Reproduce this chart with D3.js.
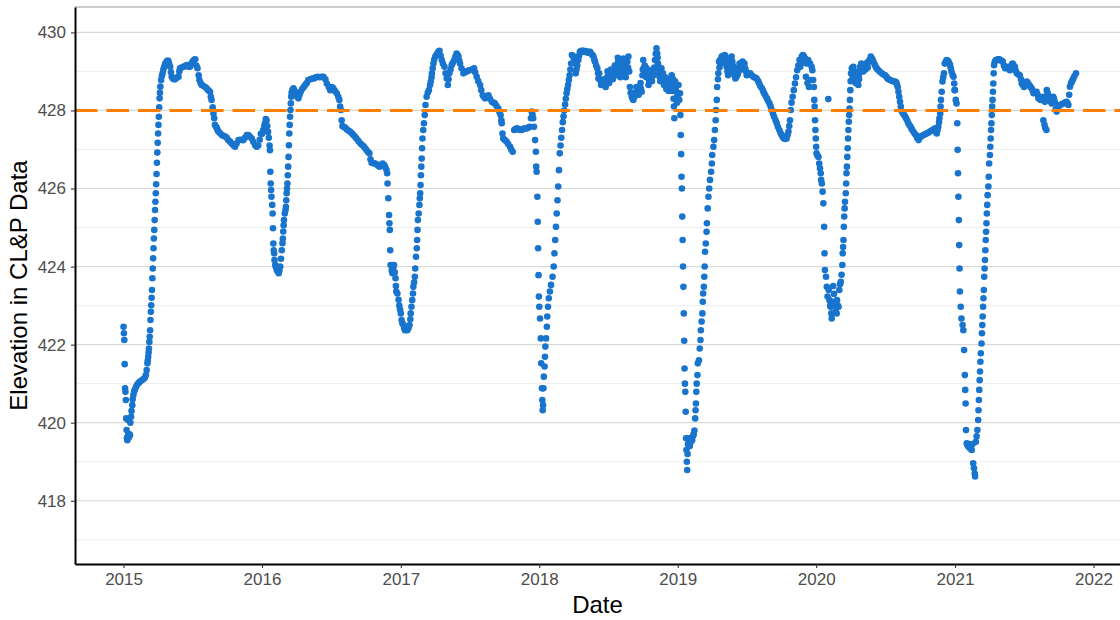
<!DOCTYPE html>
<html>
<head>
<meta charset="utf-8">
<script src="https://cdn.jsdelivr.net/npm/d3@7"></script>
<style>
body{margin:0;background:#fff;}
svg{display:block;font-family:"Liberation Sans",Arial,sans-serif;}
</style>
</head>
<body>
<script>
// [day of year, elevation]
let y2015=[[0,422.46],[1,422.29],[2,422.12],[3,421.5],[4,420.88],[5,420.79],[6,420.58],[7,420.11],[8,419.81],[9,419.6],[10,419.55],[11,419.65],[12,420.07],[13,419.7],[14,419.62],[16,419.7],[17,419.68],[18,420.0],[20,420.15],[21,420.3],[23,420.45],[24,420.6],[26,420.71],[28,420.8],[30,420.85],[33,420.92],[36,420.98],[40,421.02],[43,421.05],[47,421.08],[52,421.11],[56,421.15],[59,421.22],[61,421.35],[63,421.52],[64,421.6],[65,421.69],[66,421.8],[67,421.9],[68,422.07],[69,422.2],[70,422.37],[71,422.63],[72,422.84],[73,423.01],[74,423.2],[75,423.4],[76,423.7],[77,423.95],[78,424.21],[79,424.47],[80,424.72],[81,424.94],[82,425.19],[83,425.45],[84,425.66],[85,425.88],[86,426.11],[87,426.37],[88,426.66],[89,426.92],[90,427.17],[91,427.41],[92,427.63],[93,427.84],[94,428.08],[95,428.31],[96,428.45],[97,428.61],[99,428.78],[101,428.88],[103,428.95],[105,429.05],[107,429.12],[110,429.2],[112,429.22],[115,429.27],[118,429.27],[120,429.2],[123,429.12],[125,428.98],[127,428.86],[130,428.82],[133,428.8],[136,428.8],[140,428.84],[145,428.86],[147,429.0],[149,429.08],[153,429.1],[158,429.12],[162,429.14],[167,429.16],[171,429.12],[175,429.12],[179,429.2],[182,429.25],[186,429.3],[189,429.31],[192,429.15],[195,429.08],[198,428.9],[200,428.78],[203,428.7],[206,428.65],[210,428.63],[215,428.6],[219,428.57],[223,428.52],[228,428.48],[230,428.35],[232,428.27],[235,428.08],[237,427.92],[239,427.8],[241,427.63],[244,427.58],[246,427.55],[248,427.5],[250,427.46],[254,427.42],[259,427.37],[263,427.35],[268,427.33],[272,427.3],[276,427.24],[281,427.2],[285,427.15],[290,427.1],[294,427.07],[298,427.15],[303,427.24],[308,427.25],[312,427.24],[316,427.24],[320,427.3],[325,427.37],[329,427.37],[333,427.33],[338,427.28],[342,427.2],[347,427.11],[351,427.07],[355,427.1],[359,427.25],[362,427.4]];
let y2016=[[0,427.4],[3,427.5],[6,427.6],[8,427.67],[10,427.78],[12,427.75],[14,427.6],[16,427.45],[18,427.3],[20,427.1],[21,426.98],[22,426.43],[23,426.13],[24,425.96],[25,425.79],[27,425.58],[28,425.36],[29,424.98],[30,424.59],[31,424.42],[32,424.34],[33,424.17],[35,424.04],[37,423.98],[39,423.91],[41,423.88],[44,423.83],[46,423.9],[48,424.0],[50,424.2],[52,424.42],[54,424.6],[55,424.72],[56,424.9],[57,425.06],[58,425.19],[60,425.36],[62,425.45],[63,425.53],[64,425.7],[65,425.88],[66,426.0],[67,426.13],[68,426.34],[69,426.56],[70,426.81],[71,427.11],[72,427.41],[73,427.63],[74,427.84],[75,428.01],[76,428.18],[77,428.35],[78,428.45],[80,428.52],[83,428.57],[86,428.5],[89,428.42],[93,428.35],[96,428.31],[99,428.4],[102,428.48],[106,428.55],[110,428.6],[114,428.65],[118,428.7],[122,428.78],[127,428.8],[132,428.82],[137,428.82],[142,428.85],[147,428.86],[152,428.85],[157,428.86],[162,428.86],[167,428.8],[171,428.69],[176,428.6],[180,428.52],[184,428.6],[188,428.57],[192,428.5],[197,428.44],[201,428.35],[204,428.27],[206,428.1],[208,428.01],[210,427.75],[212,427.6],[215,427.58],[219,427.56],[223,427.52],[228,427.48],[232,427.46],[236,427.42],[240,427.38],[245,427.33],[249,427.28],[254,427.22],[259,427.16],[263,427.12],[268,427.08],[272,427.03],[276,426.98],[280,426.93],[283,426.9],[286,426.75],[289,426.66],[293,426.65],[298,426.64],[302,426.62],[306,426.58],[310,426.56],[314,426.6],[318,426.64],[322,426.6],[325,426.55],[328,426.48],[330,426.39],[331,426.13],[333,425.75],[335,425.32],[336,425.11],[337,424.94],[338,424.42],[339,424.04],[342,423.9],[344,423.83],[346,423.95],[348,424.04],[350,423.85],[352,423.7],[353,423.5],[354,423.36],[357,423.31],[360,423.15],[362,423.0],[364,422.9]];
let y2017=[[0,422.8],[2,422.63],[4,422.55],[7,422.5],[9,422.42],[11,422.37],[14,422.38],[17,422.37],[20,422.42],[23,422.5],[25,422.65],[26,422.8],[28,422.97],[30,423.14],[32,423.31],[33,423.48],[35,423.6],[37,423.74],[38,423.95],[40,424.25],[42,424.47],[43,424.68],[44,424.94],[45,425.19],[47,425.36],[49,425.58],[50,425.75],[51,425.88],[52,426.09],[53,426.34],[54,426.56],[55,426.77],[56,427.03],[57,427.28],[59,427.5],[61,427.67],[63,427.88],[65,428.14],[68,428.35],[71,428.45],[74,428.52],[77,428.65],[79,428.74],[81,428.85],[82,428.95],[84,429.08],[86,429.2],[88,429.3],[91,429.38],[94,429.42],[96,429.46],[99,429.5],[102,429.53],[105,429.4],[108,429.29],[111,429.2],[115,429.12],[118,428.95],[121,428.82],[124,428.65],[126,428.8],[128,428.95],[131,429.05],[134,429.16],[137,429.22],[141,429.29],[144,429.38],[147,429.46],[150,429.42],[152,429.38],[154,429.28],[156,429.2],[160,429.08],[165,428.95],[169,428.98],[174,429.0],[178,429.02],[182,429.03],[187,429.05],[193,429.08],[196,428.98],[200,428.86],[204,428.75],[209,428.65],[212,428.52],[216,428.39],[219,428.35],[222,428.31],[226,428.35],[231,428.39],[235,428.3],[240,428.22],[244,428.2],[248,428.18],[252,428.12],[257,428.05],[260,427.96],[263,427.88],[265,427.75],[266,427.67],[268,427.41],[270,427.28],[274,427.24],[279,427.2],[283,427.14],[288,427.07],[291,427.0],[295,426.94],[299,427.5],[302,427.52],[306,427.54],[310,427.52],[314,427.5],[319,427.5],[323,427.53],[328,427.54],[332,427.54],[336,427.56],[340,427.58],[343,427.8],[345,427.97],[347,427.9],[349,427.8],[351,427.58],[354,427.24],[356,426.94],[357,426.56],[358,426.43],[360,425.79],[361,425.15],[362,424.47],[363,423.78],[364,423.23]];
let y2018=[[0,422.97],[2,422.67],[4,422.16],[5,421.52],[7,420.88],[8,420.58],[9,420.32],[10,420.45],[11,420.88],[12,421.18],[14,421.44],[15,421.69],[16,421.95],[18,422.16],[20,422.46],[21,422.72],[23,422.97],[25,423.19],[28,423.36],[31,423.53],[35,423.74],[38,424.0],[40,424.34],[42,424.68],[44,425.02],[46,425.36],[48,425.7],[50,426.05],[52,426.47],[54,426.9],[56,427.1],[58,427.3],[60,427.5],[62,427.7],[64,427.85],[66,428.0],[68,428.15],[70,428.3],[72,428.44],[74,428.55],[76,428.65],[78,428.78],[80,428.9],[82,429.05],[84,429.2],[86,429.42],[88,429.4],[90,429.38],[92,429.3],[94,429.2],[96,428.95],[98,429.05],[100,429.15],[103,429.29],[105,429.4],[107,429.5],[110,429.52],[113,429.53],[116,429.53],[119,429.5],[122,429.52],[125,429.5],[128,429.48],[131,429.5],[134,429.5],[137,429.45],[140,429.42],[143,429.38],[145,429.3],[147,429.25],[150,429.15],[153,429.08],[155,428.95],[156,428.82],[159,428.8],[162,428.76],[165,428.74],[168,428.7],[171,428.66],[173,428.65],[176,428.75],[179,428.85],[182,428.9],[185,428.86],[187,428.82],[190,428.88],[193,428.92],[195,428.95],[198,429.0],[201,429.05],[204,429.08],[206,429.18],[208,429.25],[211,429.2],[213,429.2],[215,429.1],[217,428.99],[219,429.15],[222,429.33],[224,429.1],[226,428.95],[229,429.1],[232,429.25],[235,429.38],[237,429.0],[239,428.6],[241,428.45],[244,428.35],[246,428.3],[248,428.27],[251,428.35],[254,428.42],[257,428.48],[260,428.52],[263,428.57],[266,428.6],[268,428.55],[270,428.48],[272,428.9],[274,429.29],[276,429.1],[279,428.9],[281,429.0],[283,429.08],[285,428.85],[288,428.65],[290,428.75],[292,428.82],[295,428.85],[298,428.88],[301,428.9],[303,429.1],[305,429.29],[307,429.45],[309,429.59],[311,429.46],[313,429.2],[315,428.95],[317,428.86],[320,429.0],[322,429.08],[324,428.95],[327,428.82],[330,428.75],[333,428.7],[336,428.69],[339,428.66],[342,428.62],[345,428.6],[348,428.7],[350,428.78],[352,428.65],[354,428.3],[355,428.1],[356,427.8],[358,428.74],[360,428.6],[362,428.48],[364,428.35],
    [158,428.95],[163,428.65],[170,428.8],[175,428.6],[180,429.0],[184,428.7],[189,429.05],[194,428.8],[199,429.15],[203,428.9],[207,429.35],[210,429.0],[214,428.85],[218,429.3],[221,429.05],[225,429.25],[228,428.85],[231,429.0],[234,429.1],[247,428.45],[256,428.6],[262,428.4],[267,428.7],[273,429.05],[278,429.15],[282,428.85],[286,429.0],[289,428.9],[294,429.0],[297,428.75],[300,429.05],[304,429.0],[308,429.3],[312,429.35],[316,429.1],[319,428.75],[323,428.9],[326,428.95],[329,428.65],[332,428.85],[335,428.55],[338,428.8],[341,428.5],[344,428.75],[347,428.55],[349,428.9],[351,428.5],[353,428.8],[357,428.55],[359,428.3],[361,428.65],[363,428.2]];
let y2019=[[0,428.4],[2,428.65],[4,428.27],[6,428.44],[7,427.88],[8,427.37],[9,426.88],[10,426.3],[11,426.0],[12,425.28],[13,424.68],[14,424.0],[15,423.48],[16,422.8],[17,422.1],[18,421.39],[19,421.0],[20,420.79],[21,420.28],[22,419.6],[23,419.3],[24,419.0],[25,418.79],[26,419.2],[27,419.45],[28,419.6],[30,419.5],[32,419.4],[34,419.5],[36,419.6],[38,419.55],[40,419.65],[42,419.7],[44,419.8],[46,420.11],[47,420.32],[48,420.49],[49,420.79],[50,421.0],[52,421.22],[53,421.52],[56,421.6],[58,421.9],[60,422.12],[61,422.37],[63,422.59],[65,422.8],[66,423.1],[67,423.31],[69,423.48],[70,423.74],[71,424.0],[72,424.38],[74,424.59],[76,424.89],[77,425.11],[79,425.49],[81,425.79],[83,426.0],[85,426.22],[88,426.43],[90,426.64],[91,426.86],[94,427.07],[96,427.24],[98,427.5],[100,427.75],[101,428.01],[103,428.27],[104,428.6],[106,428.8],[107,428.95],[109,429.25],[112,429.3],[116,429.38],[120,429.4],[124,429.42],[127,429.25],[129,429.12],[131,429.0],[133,428.9],[136,429.05],[138,429.2],[140,429.3],[142,429.38],[145,429.15],[147,429.03],[150,428.9],[152,428.82],[155,428.86],[158,428.92],[160,428.99],[162,429.05],[164,429.12],[168,429.2],[171,429.25],[174,429.15],[178,429.08],[182,428.9],[186,428.92],[191,428.95],[195,428.9],[199,428.86],[204,428.84],[208,428.82],[212,428.75],[215,428.69],[218,428.62],[222,428.57],[225,428.5],[228,428.44],[231,428.38],[235,428.31],[238,428.25],[242,428.18],[245,428.1],[248,428.01],[251,427.92],[254,427.84],[258,427.75],[261,427.67],[264,427.58],[268,427.5],[271,427.42],[274,427.37],[277,427.32],[280,427.28],[284,427.27],[287,427.28],[290,427.38],[292,427.46],[294,427.6],[296,427.75],[298,428.01],[300,428.2],[303,428.35],[306,428.52],[309,428.69],[312,428.85],[315,429.03],[318,429.15],[321,429.29],[323,429.12],[325,429.2],[327,429.38],[330,429.42],[333,429.38],[336,429.33],[338,428.86],[340,429.2],[342,428.7],[344,429.29],[346,428.6],[349,429.2],[351,428.78],[353,429.12],[355,429.03],[357,428.78],[359,428.6],[360,428.27],[361,428.1],[362,427.75],[363,427.5],[364,427.28],
    [110,429.1],[114,429.2],[118,429.25],[122,429.3],[126,429.38],[130,429.2],[135,428.95],[139,429.1],[144,429.25],[149,429.1],[154,428.95],[157,429.05],[163,429.2],[166,429.05],[170,429.1],[176,429.2],[180,429.0]];
let y2020=[[0,427.07],[1,426.9],[3,426.85],[6,426.81],[8,426.64],[10,426.52],[12,426.39],[13,426.22],[15,426.13],[17,425.92],[19,425.62],[21,425.02],[22,424.34],[23,423.91],[26,423.74],[28,423.48],[30,423.23],[32,428.29],[33,423.4],[35,423.14],[37,423.0],[38,422.97],[40,422.8],[41,422.67],[43,423.1],[45,423.5],[47,423.3],[49,423.0],[51,422.85],[54,422.8],[55,423.14],[57,423.0],[59,422.97],[61,423.4],[63,423.55],[65,423.61],[67,423.79],[69,424.04],[70,424.34],[71,424.5],[72,424.68],[73,425.02],[74,425.28],[75,425.49],[76,425.66],[78,425.88],[79,426.13],[80,426.39],[81,426.56],[82,426.81],[83,427.03],[84,427.28],[85,427.5],[86,427.71],[87,427.88],[88,428.05],[89,428.27],[90,428.52],[91,428.75],[92,428.95],[94,429.08],[96,429.1],[98,429.12],[100,429.0],[102,428.9],[105,428.82],[107,428.78],[109,428.7],[111,428.65],[113,428.8],[114,428.95],[116,429.12],[118,429.08],[120,429.03],[122,429.1],[125,429.16],[128,429.18],[132,429.2],[135,429.22],[138,429.25],[141,429.3],[144,429.38],[147,429.33],[149,429.29],[152,429.22],[155,429.16],[158,429.1],[161,429.06],[164,429.03],[168,428.99],[173,428.95],[177,428.92],[182,428.9],[185,428.86],[188,428.82],[191,428.8],[195,428.78],[199,428.76],[204,428.74],[208,428.74],[211,428.72],[213,428.66],[215,428.6],[217,428.48],[219,428.35],[221,428.22],[223,428.1],[226,427.97],[229,427.92],[232,427.88],[235,427.84],[237,427.8],[240,427.74],[243,427.67],[246,427.62],[249,427.58],[252,427.52],[256,427.46],[260,427.4],[263,427.37],[266,427.3],[270,427.24],[273,427.3],[276,427.33],[279,427.35],[283,427.37],[287,427.39],[291,427.41],[295,427.43],[300,427.46],[304,427.48],[307,427.5],[311,427.52],[314,427.54],[316,427.45],[318,427.41],[320,427.5],[322,427.58],[324,427.7],[325,427.8],[327,427.92],[328,428.1],[329,428.27],[331,428.48],[333,428.74],[335,428.85],[337,428.95],[339,429.2],[342,429.25],[344,429.29],[347,429.27],[349,429.25],[351,429.2],[353,429.16],[355,429.08],[357,428.99],[360,428.9],[362,428.86],[364,428.69],[365,428.52],
    [95,428.9],[99,428.95],[104,428.7],[108,428.9],[112,428.85],[115,429.05],[119,429.2],[124,429.0],[130,429.05],[136,429.1]];
let y2021=[[0,428.52],[2,428.27],[4,428.18],[6,427.67],[7,426.99],[8,426.39],[9,425.79],[10,425.19],[11,424.55],[12,423.95],[13,423.36],[15,422.97],[17,422.67],[20,422.5],[22,422.37],[24,421.86],[26,421.22],[27,420.84],[28,420.49],[29,419.81],[31,419.47],[33,419.42],[35,419.39],[37,419.45],[40,419.34],[42,419.4],[44,419.3],[46,419.45],[48,418.96],[50,418.83],[52,418.7],[53,418.62],[55,419.51],[57,419.65],[59,419.81],[61,420.07],[62,420.32],[63,420.58],[64,420.84],[65,421.09],[66,421.31],[67,421.56],[68,421.78],[70,422.03],[71,422.29],[72,422.5],[73,422.72],[74,422.97],[75,423.19],[76,423.4],[77,423.74],[78,423.95],[79,424.17],[80,424.42],[81,424.68],[82,424.89],[83,425.11],[84,425.36],[85,425.58],[86,425.83],[88,426.05],[89,426.3],[90,426.64],[92,426.86],[93,427.07],[94,427.28],[95,427.5],[96,427.67],[97,427.88],[98,428.1],[99,428.27],[100,428.48],[101,428.69],[102,428.95],[103,429.16],[105,429.25],[108,429.29],[111,429.3],[114,429.31],[117,429.31],[120,429.28],[123,429.27],[126,429.25],[129,429.15],[132,429.08],[135,429.1],[138,429.12],[141,429.08],[143,429.05],[145,429.03],[148,429.1],[150,429.18],[152,429.2],[155,429.15],[158,429.12],[160,429.02],[163,428.95],[167,428.92],[171,428.9],[174,428.8],[176,428.69],[179,428.65],[182,428.6],[185,428.68],[189,428.74],[192,428.7],[196,428.65],[199,428.6],[202,428.57],[205,428.5],[207,428.44],[211,428.46],[215,428.48],[218,428.4],[220,428.31],[223,428.29],[226,428.27],[230,428.3],[233,428.35],[235,428.28],[237,428.22],[233,427.75],[236,427.63],[238,427.55],[241,427.5],[242,428.52],[244,428.45],[246,428.39],[248,428.33],[250,428.27],[253,428.22],[255,428.18],[257,428.28],[259,428.35],[261,428.3],[263,428.22],[266,428.05],[268,427.97],[270,428.05],[272,428.1],[275,428.12],[277,428.14],[281,428.16],[286,428.18],[290,428.2],[294,428.22],[297,428.18],[299,428.14],[301,428.4],[303,428.61],[306,428.7],[308,428.74],[310,428.78],[312,428.82],[315,428.88],[319,428.95]];

let seasons=[[2015,y2015],[2016,y2016],[2017,y2017],[2018,y2018],[2019,y2019],[2020,y2020],[2021,y2021]];
let yearTicks=[2015,2016,2017,2018,2019,2020,2021,2022];
let elevTicks=[418,420,422,424,426,428,430];
let minorTicks=[417,419,421,423,425,427,429];
let refLevel=428;

let W=1120,H=620;
let padL=75,padT=7,padB=564;

let pts=seasons.flatMap(([yr,arr])=>arr.map(([d,v])=>({date:d3.timeDay.offset(new Date(yr,0,1),d),elev:v})));

let x=d3.scaleTime().domain([new Date(2014,7,26),new Date(2022,2,12)]).range([padL,W]);
let y=d3.scaleLinear().domain([416.38,430.65]).range([padB,padT]);

let svg=d3.select("body").append("svg").attr("width",W).attr("height",H);
svg.append("rect").attr("width",W).attr("height",H).attr("fill","#fff");

svg.append("g").selectAll("line").data(minorTicks).enter().append("line")
    .attr("x1",padL).attr("x2",W).attr("y1",d=>y(d)).attr("y2",d=>y(d))
    .attr("stroke","#ebebeb").attr("stroke-width",0.9);
svg.append("g").selectAll("line").data(elevTicks).enter().append("line")
    .attr("x1",padL).attr("x2",W).attr("y1",d=>y(d)).attr("y2",d=>y(d))
    .attr("stroke","#d9d9d9").attr("stroke-width",1.2);
svg.append("line").attr("x1",padL).attr("x2",W).attr("y1",padT).attr("y2",padT)
    .attr("stroke","#bdbdbd").attr("stroke-width",1.4);

svg.append("g").selectAll("circle").data(pts).enter().append("circle")
    .attr("cx",d=>x(d.date)).attr("cy",d=>y(d.elev)).attr("r",3.3)
    .attr("fill","#1874CD");

svg.append("line").attr("x1",padL).attr("x2",W).attr("y1",y(refLevel)).attr("y2",y(refLevel))
    .attr("stroke","#FF7F00").attr("stroke-width",3).attr("stroke-dasharray","22.5,9");

let gx=svg.append("g").attr("transform",`translate(0,${padB})`)
    .call(d3.axisBottom(x).tickValues(yearTicks.map(t=>new Date(t,0,1))).tickFormat(d3.timeFormat("%Y")).tickSize(4).tickSizeOuter(0).tickPadding(5));
let gy=svg.append("g").attr("transform",`translate(${padL},0)`)
    .call(d3.axisLeft(y).tickValues(elevTicks).tickSize(4).tickSizeOuter(0).tickPadding(5));
[gx,gy].forEach(g=>{
    g.select(".domain").attr("stroke","#000").attr("stroke-width",2);
    g.selectAll(".tick line").attr("stroke","#333").attr("stroke-width",1.1);
    g.selectAll(".tick text").attr("fill","#4d4d4d").style("font-size","17px").style("font-family","'Liberation Sans',Arial,sans-serif");
});

svg.append("text").attr("x",(padL+W)/2).attr("y",613).attr("text-anchor","middle")
    .style("font-size","24px").attr("fill","#000").text("Date");
svg.append("text").attr("transform",`translate(27,${(padT+padB)/2}) rotate(-90)`).attr("text-anchor","middle")
    .style("font-size","24px").attr("fill","#000").text("Elevation in CL&P Data");
</script>
</body>
</html>
